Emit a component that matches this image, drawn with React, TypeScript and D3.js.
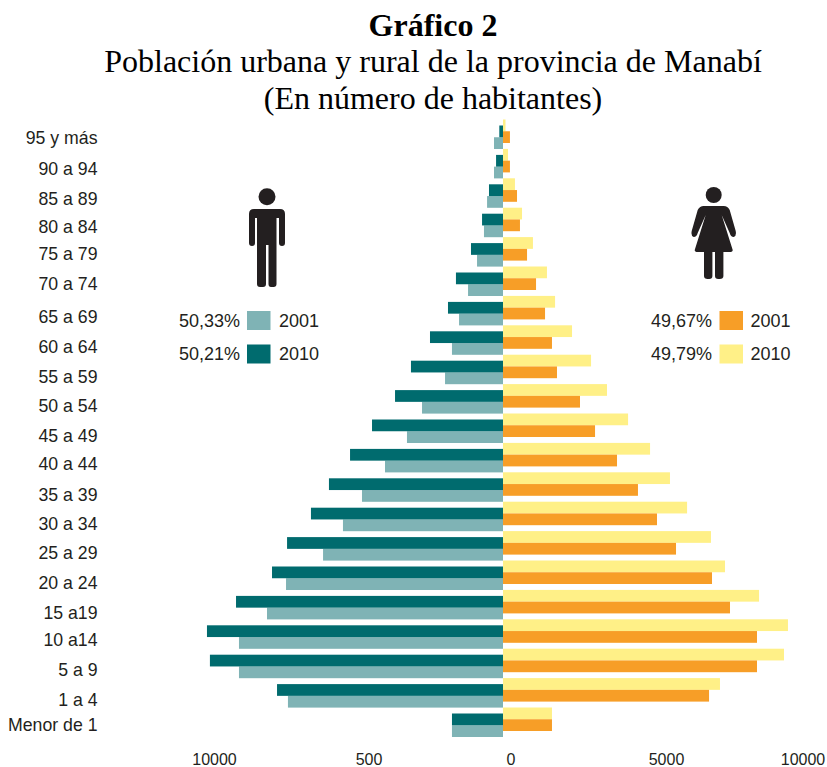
import React, { useEffect, useRef } from 'react';
import * as d3 from 'd3';

const ageGroups = [
  '95 y más', '90 a 94', '85 a 89', '80 a 84', '75 a 79', '70 a 74', '65 a 69',
  '60 a 64', '55 a 59', '50 a 54', '45 a 49', '40 a 44', '35 a 39', '30 a 34',
  '25 a 29', '20 a 24', '15 a19', '10 a14', '5 a 9', '1 a 4', 'Menor de 1',
];

const men2010 = [125, 235, 475, 710, 1085, 1595, 1865, 2475, 3120, 3660, 4440, 5185, 5900, 6510, 7320, 7830, 9050, 10035, 9935, 7660, 1730];
const men2001 = [305, 305, 540, 645, 880, 1185, 1490, 1730, 1965, 2745, 3255, 4000, 4780, 5425, 6100, 7355, 8000, 8950, 8950, 7290, 1730];
const women2010 = [85, 170, 405, 645, 1015, 1490, 1765, 2340, 2985, 3525, 4240, 4985, 5660, 6240, 7050, 7525, 8680, 9660, 9525, 7355, 1660];
const women2001 = [235, 235, 475, 575, 815, 1120, 1425, 1660, 1830, 2610, 3120, 3865, 4575, 5220, 5865, 7085, 7695, 8610, 8610, 6985, 1660];

const axisTicks = [-10000, -5000, 0, 5000, 10000];
const axisLabels = ['10000', '500', '0', '5000', '10000'];
// the printed tick labels sit a bit off their true positions
const axisNudge = [6.5, 13.5, 8, 16, 5];
// same for the age labels
const labelNudge = [0, 1.6, 2.3, 1, -1.4, -0.8, 3, 3.5, 4.2, 4, 4.5, 3, 5, 4.4, 4, 5, 5.4, 3, 4, 4.3, 0];

const colors = { men2001: '#7fb3b5', men2010: '#006b6e', women2001: '#f79e27', women2010: '#fff087' };
const textColor = '#231f20';
const sans = '"Liberation Sans", Arial, sans-serif';
const serif = '"Liberation Serif", "Times New Roman", serif';

const App = () => {
  const svgRef = useRef<SVGSVGElement>(null);

  useEffect(() => {
    const svg = d3.select(svgRef.current);
    svg.selectAll('*').remove();

    const x = d3.scaleLinear().domain([-10000, 10000]).range([208, 798]);
    const rows = d3.scaleBand().domain(ageGroups).range([119.5, 119.5 + 29.4 * 21]);
    const inner = d3.scaleBand().domain(['2010', '2001']).range([0, 23.5]);
    const leftShift = 6;

    // Titles
    const titles = [
      { t: 'Gráfico 2', y: 36, w: 'bold' },
      { t: 'Población urbana y rural de la provincia de Manabí', y: 72, w: 'normal' },
      { t: '(En número de habitantes)', y: 109, w: 'normal' },
    ];
    svg.selectAll('text.title')
      .data(titles)
      .join('text')
      .attr('class', 'title')
      .attr('x', 433)
      .attr('y', (d) => d.y)
      .attr('text-anchor', 'middle')
      .style('font-family', serif)
      .style('font-size', '32px')
      .style('font-weight', (d) => d.w)
      .attr('fill', '#000')
      .text((d) => d.t);

    // Bars, 2010 first so that 2001 sits over its lower edge
    const drawSide = (values: number[], year: string, fill: string, left: boolean) => {
      svg.append('g')
        .selectAll('rect')
        .data(values)
        .join('rect')
        .attr('x', (d) => (left ? x(-d) : x(0)))
        .attr('y', (_, i) => rows(ageGroups[i])! + inner(year)! + (left ? leftShift : 0))
        .attr('width', (d) => Math.abs(x(d) - x(0)))
        .attr('height', inner.bandwidth())
        .attr('fill', fill);
    };
    drawSide(men2001, '2001', colors.men2001, true);
    drawSide(men2010, '2010', colors.men2010, true);
    drawSide(women2010, '2010', colors.women2010, false);
    drawSide(women2001, '2001', colors.women2001, false);

    // Age labels
    const labelScale = d3.scalePoint().domain(ageGroups).range([144, 731]);
    svg.append('g')
      .selectAll('text')
      .data(ageGroups)
      .join('text')
      .attr('x', 97.5)
      .attr('y', (d, i) => labelScale(d)! + labelNudge[i])
      .attr('text-anchor', 'end')
      .style('font-family', sans)
      .style('font-size', '17.7px')
      .attr('fill', textColor)
      .text((d) => d);

    // Bottom axis labels
    svg.append('g')
      .selectAll('text')
      .data(axisTicks)
      .join('text')
      .attr('x', (d, i) => x(d) + axisNudge[i])
      .attr('y', 765)
      .attr('text-anchor', 'middle')
      .style('font-family', sans)
      .style('font-size', '16px')
      .attr('fill', textColor)
      .text((_, i) => axisLabels[i]);

    // Legends
    const legend = [
      { pct: '50,33%', year: '2001', fill: colors.men2001, px: 179, sx: 247, tx: 279, y: 311 },
      { pct: '50,21%', year: '2010', fill: colors.men2010, px: 179, sx: 247, tx: 279, y: 344.5 },
      { pct: '49,67%', year: '2001', fill: colors.women2001, px: 651, sx: 719.5, tx: 750.5, y: 311 },
      { pct: '49,79%', year: '2010', fill: colors.women2010, px: 651, sx: 719.5, tx: 750.5, y: 344.5 },
    ];
    const lg = svg.append('g').selectAll('g').data(legend).join('g');
    lg.append('rect')
      .attr('x', (d) => d.sx)
      .attr('y', (d) => d.y)
      .attr('width', 23.5)
      .attr('height', 19)
      .attr('fill', (d) => d.fill);
    lg.append('text')
      .attr('x', (d) => d.px)
      .attr('y', (d) => d.y + 15.5)
      .style('font-family', sans)
      .style('font-size', '18px')
      .attr('fill', textColor)
      .text((d) => d.pct);
    lg.append('text')
      .attr('x', (d) => d.tx)
      .attr('y', (d) => d.y + 15.5)
      .style('font-family', sans)
      .style('font-size', '18px')
      .attr('fill', textColor)
      .text((d) => d.year);

    // Man icon
    const man = svg.append('g').attr('transform', 'translate(267,0)').attr('fill', textColor);
    man.append('circle').attr('cy', 196.7).attr('r', 8.5);
    man.append('path').attr('d',
      'M-13,209 H13 Q18,209 18,214 V243 Q18,246 15,246 Q12,246 12,243 V218 H9.5 V284 Q9.5,287 6.5,287 H4 Q1.5,287 1.5,284 V245 H-1 V284 Q-1,287 -4,287 H-7 Q-10,287 -10,284 V218 H-12 V243 Q-12,246 -15,246 Q-18,246 -18,243 V214 Q-18,209 -13,209 Z');

    // Woman icon
    const woman = svg.append('g').attr('transform', 'translate(713.7,0)').attr('fill', textColor);
    woman.append('circle').attr('cy', 195).attr('r', 8);
    woman.append('path').attr('d',
      'M-10,206 H10 Q14,206 16,210 L22,231 Q23,236 20,237 Q17,237 16,233 L8,215 L19,250 Q19,252 16,252 H9.7 V276 Q9.7,279 6,279 H4.5 Q1.3,279 1.3,276 V252 H-1.3 V276 Q-1.3,279 -4.5,279 H-6 Q-9.7,279 -9.7,276 V252 H-16 Q-19,252 -19,250 L-8,215 L-16,233 Q-17,237 -20,237 Q-23,236 -22,231 L-16,210 Q-14,206 -10,206 Z');
  }, []);

  return (
    <svg
      ref={svgRef}
      width={827}
      height={767}
      style={{ position: 'absolute', left: 0, top: 0, display: 'block', background: '#fff' }}
    />
  );
};

export default App;
